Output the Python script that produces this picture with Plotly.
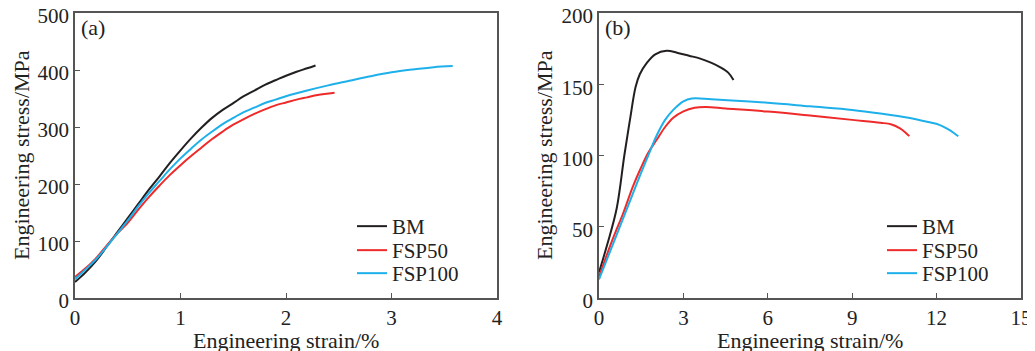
import plotly.graph_objects as go

# ---------------- Panel (a) data ----------------
a_bm_x = [0, 0.1, 0.2, 0.3, 0.4, 0.5, 0.6, 0.7, 0.8, 0.9, 1.0, 1.1, 1.2, 1.3, 1.4, 1.5, 1.6, 1.7, 1.8, 1.9, 2.0, 2.1, 2.2, 2.28]
a_bm_y = [28, 45, 65, 90, 115, 140, 165, 190, 213, 237, 259, 280, 299, 316, 330, 342, 354, 364, 374, 382, 390, 397, 403, 408]

a_fsp50_x = [0, 0.1, 0.2, 0.3, 0.4, 0.5, 0.6, 0.7, 0.8, 0.9, 1.0, 1.1, 1.2, 1.3, 1.4, 1.5, 1.6, 1.7, 1.8, 1.9, 2.0, 2.1, 2.2, 2.3, 2.46]
a_fsp50_y = [37, 52, 70, 92, 113, 132, 155, 177, 197, 216, 233, 249, 264, 279, 292, 304, 314, 323, 331, 338, 343, 348, 352, 356, 360]

a_fsp100_x = [0, 0.1, 0.2, 0.3, 0.4, 0.5, 0.6, 0.7, 0.8, 0.9, 1.0, 1.1, 1.2, 1.3, 1.4, 1.5, 1.6, 1.7, 1.8, 1.9, 2.0, 2.2, 2.4, 2.6, 2.8, 3.0, 3.2, 3.4, 3.58]
a_fsp100_y = [33, 50, 68, 90, 113, 136, 161, 184, 205, 226, 245, 262, 278, 292, 305, 316, 326, 334, 342, 348, 354, 364, 373, 381, 389, 396, 401, 405, 407]

# ---------------- Panel (b) data ----------------
b_bm_x = [0, 0.3, 0.63, 0.9, 1.1, 1.3, 1.45, 1.7, 2.0, 2.4, 2.8, 3.2, 3.6, 4.0, 4.3, 4.6, 4.78]
b_bm_y = [18, 38, 63, 100, 125, 148, 157, 165, 171, 173.5, 172, 170, 168, 165, 162, 158, 153]

b_fsp50_x = [0, 0.5, 0.87, 1.2, 1.46, 1.75, 2.05, 2.35, 2.64, 3.0, 3.4, 3.8, 4.5, 6.0, 7.5, 9.0, 10.0, 10.4, 10.7, 10.9, 11.03]
b_fsp50_y = [15, 42, 60, 78, 90, 102, 111, 120, 126.5, 131, 133.5, 134, 133, 130.8, 128, 125, 123, 121.8, 119, 116, 113.6]

b_fsp100_x = [0, 0.5, 0.9, 1.2, 1.46, 1.75, 2.05, 2.35, 2.64, 3.0, 3.3, 4.0, 6.0, 7.5, 9.0, 10.0, 11.0, 11.7, 12.1, 12.4, 12.6, 12.77]
b_fsp100_y = [13, 38, 58, 73, 86, 100, 114, 125, 132, 138, 140, 139.5, 137, 134.5, 132, 129.5, 126.5, 123.5, 121.5, 118.5, 116, 113.5]

series_names = ["BM", "FSP50", "FSP100"]
colors = ["#231f20", "#ee2a2a", "#1eb0ea"]

a_x_ticks = [0, 1, 2, 3, 4]
a_y_ticks = [0, 100, 200, 300, 400, 500]
b_x_ticks = [0, 3, 6, 9, 12, 15]
b_y_ticks = [0, 50, 100, 150, 200]

FONT = "Liberation Serif, Times New Roman, serif"
AXC = "#555555"
TXT = "#222222"

W, H = 1035, 351
OFF = 8  # page body margin offset


def fx(p):
    return (p - OFF) / W


def fy(p):
    return 1 - (p - OFF) / H


fig = go.Figure()

a_data = [(a_bm_x, a_bm_y), (a_fsp50_x, a_fsp50_y), (a_fsp100_x, a_fsp100_y)]
b_data = [(b_bm_x, b_bm_y), (b_fsp50_x, b_fsp50_y), (b_fsp100_x, b_fsp100_y)]

legend_cfg = {}
row_tops = [206, 230, 253]
for i, ((xs, ys), name, c) in enumerate(zip(a_data, series_names, colors)):
    lg = "legend" if i == 0 else f"legend{i + 1}"
    fig.add_trace(go.Scatter(x=xs, y=ys, mode="lines", name=name, line=dict(color=c, width=2, shape="spline"),
                             xaxis="x", yaxis="y", legend=lg))
    legend_cfg[lg] = dict(x=fx(352), y=fy(row_tops[i]))
for i, ((xs, ys), name, c) in enumerate(zip(b_data, series_names, colors)):
    lg = f"legend{i + 4}"
    fig.add_trace(go.Scatter(x=xs, y=ys, mode="lines", name=name, line=dict(color=c, width=2, shape="spline"),
                             xaxis="x2", yaxis="y2", legend=lg))
    legend_cfg[lg] = dict(x=fx(882), y=fy(row_tops[i]))

ax_common = dict(showgrid=False, zeroline=False, showline=True, linecolor=AXC, linewidth=1.5, mirror=True,
                 ticks="inside", ticklen=5, tickwidth=1.2, tickcolor=AXC, automargin=False,
                 ticklabeloverflow="allow",
                 tickfont=dict(family=FONT, size=21, color=TXT))

ydom = [fy(298), fy(13)]

layout_kwargs = dict(
    width=W, height=H,
    margin=dict(l=0, r=0, t=0, b=0, autoexpand=False),
    paper_bgcolor="white", plot_bgcolor="white",
    font=dict(family=FONT, color=TXT),
    xaxis=dict(domain=[fx(75), fx(497)], range=[0, 4], tickvals=a_x_ticks, anchor="y", **ax_common),
    yaxis=dict(domain=ydom, range=[0, 500], tickvals=a_y_ticks, anchor="x", ticklabelshift=3, **ax_common),
    xaxis2=dict(domain=[fx(599), fx(1021)], range=[0, 15], tickvals=b_x_ticks, anchor="y2", **ax_common),
    yaxis2=dict(domain=ydom, range=[0, 200], tickvals=b_y_ticks, anchor="x2", ticklabelshift=3, **ax_common),
    showlegend=True,
)
for lg, pos in legend_cfg.items():
    layout_kwargs[lg] = dict(x=pos["x"], y=pos["y"], xanchor="left", yanchor="top", bgcolor="rgba(0,0,0,0)",
                             font=dict(family=FONT, size=21, color=TXT), itemwidth=30)
fig.update_layout(**layout_kwargs)

annots = [
    dict(text="Engineering strain/%", x=fx(286), y=fy(340)),
    dict(text="Engineering strain/%", x=fx(810), y=fy(340)),
    dict(text="Engineering stress/MPa", x=fx(21), y=fy(155), textangle=-90),
    dict(text="Engineering stress/MPa", x=fx(544), y=fy(155), textangle=-90),
    dict(text="(a)", x=fx(93), y=fy(28)),
    dict(text="(b)", x=fx(618), y=fy(28)),
]
for an in annots:
    fig.add_annotation(xref="paper", yref="paper", showarrow=False, xanchor="center", yanchor="middle",
                       font=dict(family=FONT, size=22, color=TXT), **an)

fig.write_html("out.html")
